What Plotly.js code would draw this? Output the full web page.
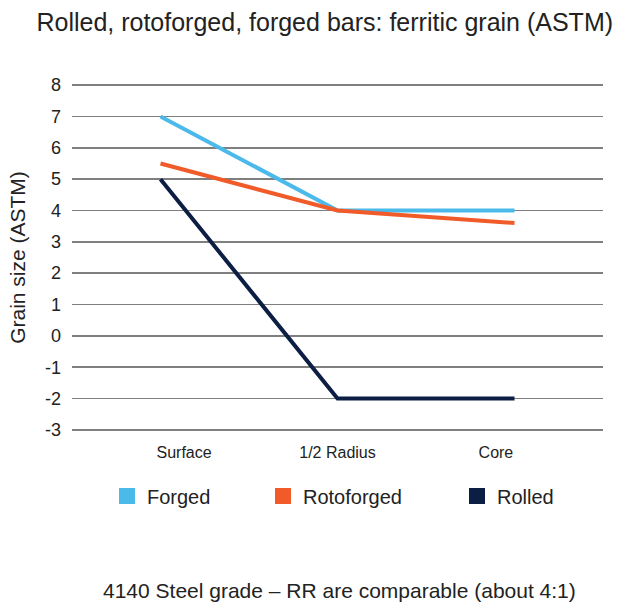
<!DOCTYPE html>
<html>
<head>
<meta charset="utf-8">
<script src="https://cdn.plot.ly/plotly-3.0.1.min.js"></script>
<style>html,body{margin:0;padding:0;background:#fff;}#chart{width:638px;height:613px;}</style>
</head>
<body>
<div id="chart"></div>
<script>
var categories = ['Surface', '1/2 Radius', 'Core'];
var forged = [7, 4, 4];
var rotoforged = [5.5, 4, 3.6];
var rolled = [5, -2, -2];
var seriesNames = ['Forged', 'Rotoforged', 'Rolled'];
var yTicks = [8, 7, 6, 5, 4, 3, 2, 1, 0, -1, -2, -3];

var colors = ['#4BB9E9', '#F15A29', '#0C1E44'];
var FONT = '"Liberation Sans", Arial, sans-serif';
var series = [forged, rotoforged, rolled];
var legendIds = ['legend', 'legend2', 'legend3'];
var catIndex = categories.map(function (c, i) { return i; });
// label positions (category labels are slightly offset from the line points in the original)
var labelPos = [0.133, 1.0, 1.895];

var traces = [];
series.forEach(function (vals, i) {
  traces.push({
    x: catIndex, y: vals, type: 'scatter', mode: 'lines',
    line: {color: colors[i], width: 4}, showlegend: false, hoverinfo: 'skip'
  });
});
series.forEach(function (vals, i) {
  traces.push({
    x: [null], y: [null], type: 'scatter', mode: 'markers', name: seriesNames[i],
    marker: {symbol: 'square', size: 16, color: colors[i]},
    showlegend: true, legend: legendIds[i]
  });
});

function leg(xpx) {
  return {
    xref: 'container', yref: 'container', x: xpx / 638, y: 1 - 496 / 613,
    xanchor: 'left', yanchor: 'middle', orientation: 'h',
    font: {family: FONT, size: 20, color: '#222'}, bgcolor: 'rgba(0,0,0,0)', borderwidth: 0
  };
}

var layout = {
  width: 638, height: 613,
  margin: {l: 72, r: 35, t: 82, b: 180},
  paper_bgcolor: '#fff', plot_bgcolor: '#fff',
  font: {family: FONT, color: '#222'},
  title: {text: 'Rolled, rotoforged, forged bars: ferritic grain (ASTM)', x: 0.509, xanchor: 'center',
          y: 1 - 22 / 613, yanchor: 'middle', font: {family: FONT, size: 25, color: '#222'}},
  xaxis: {type: 'linear', range: [-0.5, 2.5], tickvals: labelPos, ticktext: categories,
          showgrid: false, zeroline: false, showline: false, ticks: '', ticklabelstandoff: 8,
          tickfont: {family: FONT, size: 16, color: '#222'}, fixedrange: true},
  yaxis: {range: [-3.1, 8.1], tickvals: yTicks, ticktext: yTicks.map(String), showgrid: true,
          gridcolor: '#7f7f7f', gridwidth: 1.5, zeroline: false, showline: false, ticks: '',
          tickfont: {family: FONT, size: 18, color: '#222'}, ticklabelstandoff: 10,
          title: {text: 'Grain size (ASTM)', font: {family: FONT, size: 21, color: '#222'}, standoff: 13}},
  legend: leg(107), legend2: leg(263), legend3: leg(457),
  annotations: [{text: '4140 Steel grade – RR are comparable (about 4:1)', xref: 'paper', yref: 'paper',
                 x: 0.503, y: 0, xanchor: 'center', yanchor: 'middle', yshift: -157, showarrow: false,
                 font: {family: FONT, size: 21, color: '#222'}}]
};

Plotly.newPlot('chart', traces, layout, {displayModeBar: false, staticPlot: true});
</script>
</body>
</html>
